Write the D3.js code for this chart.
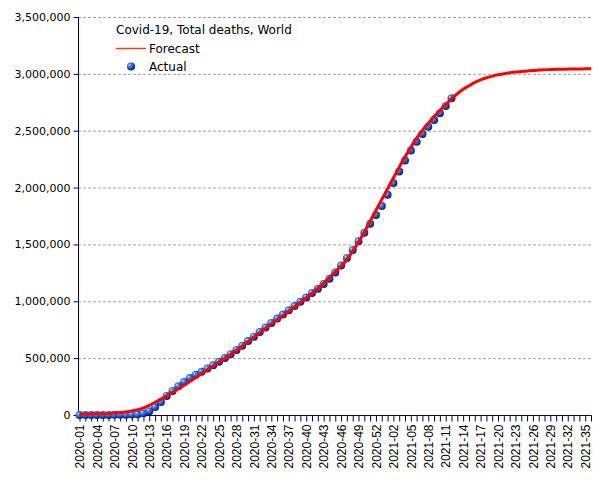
<!DOCTYPE html>
<html>
<head>
<meta charset="utf-8">
<script src="https://cdn.jsdelivr.net/npm/d3@7"></script>
<style>
  html, body { margin: 0; padding: 0; background: #fff; }
  svg { display: block; }
</style>
</head>
<body>
<svg id="chart" width="605" height="480"></svg>
<script>
const weeks = [
  "2020-01","2020-02","2020-03","2020-04","2020-05","2020-06","2020-07","2020-08","2020-09","2020-10",
  "2020-11","2020-12","2020-13","2020-14","2020-15","2020-16","2020-17","2020-18","2020-19","2020-20",
  "2020-21","2020-22","2020-23","2020-24","2020-25","2020-26","2020-27","2020-28","2020-29","2020-30",
  "2020-31","2020-32","2020-33","2020-34","2020-35","2020-36","2020-37","2020-38","2020-39","2020-40",
  "2020-41","2020-42","2020-43","2020-44","2020-45","2020-46","2020-47","2020-48","2020-49","2020-50",
  "2020-51","2020-52","2020-53","2021-01","2021-02","2021-03","2021-04","2021-05","2021-06","2021-07",
  "2021-08","2021-09","2021-10","2021-11","2021-12","2021-13","2021-14","2021-15","2021-16","2021-17",
  "2021-18","2021-19","2021-20","2021-21","2021-22","2021-23","2021-24","2021-25","2021-26","2021-27",
  "2021-28","2021-29","2021-30","2021-31","2021-32","2021-33","2021-34","2021-35","2021-36"
];

const actual = [
  0, 1, 3, 80, 362, 910, 1770, 2470, 3000, 3800,
  6500, 14700, 33900, 69400, 114000, 168000, 212000, 252000, 290000, 325000,
  354000, 380000, 408000, 437000, 468000, 501000, 535000, 572000, 610000, 650000,
  689000, 730000, 770000, 809000, 848000, 883000, 921000, 958000, 995000, 1033000,
  1072000, 1111000, 1153000, 1199000, 1253000, 1314000, 1381000, 1452000, 1527000, 1602000,
  1682000, 1758000, 1837000, 1937000, 2040000, 2141000, 2238000, 2325000, 2403000, 2472000,
  2535000, 2594000, 2654000, 2717000, 2785000
];

const forecast = [
  8000, 9000, 10000, 11000, 12000, 14000, 17000, 21000, 27000, 35000,
  46000, 62000, 85000, 112000, 140000, 168000, 198000, 230000, 262000, 296000,
  330000, 364000, 398000, 432000, 466000, 500000, 533000, 568000, 605000, 645000,
  685000, 722000, 760000, 798000, 835000, 872000, 910000, 950000, 990000, 1030000,
  1070000, 1115000, 1160000, 1210000, 1260000, 1310000, 1365000, 1440000, 1520000, 1610000,
  1705000, 1800000, 1895000, 1990000, 2085000, 2180000, 2270000, 2355000, 2435000, 2505000,
  2565000, 2625000, 2680000, 2730000, 2780000, 2825000, 2865000, 2895000, 2925000, 2948000,
  2966000, 2980000, 2992000, 3001000, 3009000, 3016000, 3021000, 3026000, 3030000, 3033000,
  3036000, 3038000, 3040000, 3041000, 3042000, 3043000, 3043000, 3044000, 3044000
];

const yTicks = [0, 500000, 1000000, 1500000, 2000000, 2500000, 3000000, 3500000];
const legendTitle = "Covid-19, Total deaths, World";
const seriesNames = ["Forecast", "Actual"];

const svg = d3.select("#chart");
const axisColor = "#000066";
const plotLeft = 78, plotRight = 591, plotTop = 17, plotBottom = 415;

const x = d3.scalePoint().domain(weeks).range([79.5, 591]);
const y = d3.scaleLinear().domain([0, 3500000]).range([plotBottom, plotTop]);

// defs: sphere gradient
const defs = svg.append("defs");
const grad = defs.append("radialGradient").attr("id", "ball")
  .attr("cx", "40%").attr("cy", "40%").attr("r", "65%").attr("fx", "32%").attr("fy", "30%");
grad.append("stop").attr("offset", "0%").attr("stop-color", "#d6e8ff");
grad.append("stop").attr("offset", "25%").attr("stop-color", "#4d8ff5");
grad.append("stop").attr("offset", "60%").attr("stop-color", "#1a56d0");
grad.append("stop").attr("offset", "100%").attr("stop-color", "#001060");

// grid lines
svg.append("g").selectAll("line").data(yTicks.filter(d => d > 0)).join("line")
  .attr("x1", plotLeft).attr("x2", plotRight)
  .attr("y1", d => y(d) + 0.5).attr("y2", d => y(d) + 0.5)
  .attr("stroke", "#a0a0a0").attr("stroke-width", 1).attr("stroke-dasharray", "3,2");

// Y axis
const yAxis = d3.axisLeft(y).tickValues(yTicks).tickSize(5).tickPadding(3)
  .tickFormat(d3.format(","));
const gy = svg.append("g").attr("transform", `translate(${plotLeft + 0.5},0)`).call(yAxis);
gy.select(".domain").attr("stroke", axisColor).attr("d", `M0,${plotTop}V${plotBottom}`);
gy.selectAll(".tick line").attr("stroke", axisColor);
gy.selectAll(".tick text").attr("fill", "#000").style("font-family", "'DejaVu Sans', sans-serif").style("font-size", "11px");

// X axis
const xAxis = d3.axisBottom(x).tickSize(6).tickSizeOuter(0)
  .tickFormat((d, i) => (i % 3 === 0 ? d : ""));
const gx = svg.append("g").attr("transform", `translate(0,${plotBottom + 0.5})`).call(xAxis);
gx.select(".domain").attr("stroke", axisColor).attr("d", `M${plotLeft},0H${plotRight + 0.5}`);
gx.selectAll(".tick line").attr("stroke", axisColor);
gx.selectAll(".tick text")
  .attr("fill", "#000")
  .style("font-family", "'Liberation Sans', Arial, sans-serif").style("font-size", "12px")
  .attr("text-anchor", "end")
  .attr("transform", "rotate(-90)")
  .attr("x", -9).attr("y", 0).attr("dy", "0.35em");

// Actual points
svg.append("g").selectAll("circle").data(actual).join("circle")
  .attr("cx", (d, i) => x(weeks[i]))
  .attr("cy", d => y(d))
  .attr("r", 4)
  .attr("fill", "url(#ball)");

// Forecast line
const line = d3.line().x((d, i) => x(weeks[i])).y(d => y(d)).curve(d3.curveMonotoneX);
svg.append("path").datum(forecast)
  .attr("d", line)
  .attr("fill", "none").attr("stroke", "#ff0000").attr("stroke-width", 3);

// Legend
const lg = svg.append("g").style("font-family", "'DejaVu Sans', sans-serif").style("font-size", "12px");
lg.append("text").attr("x", 116).attr("y", 34).text(legendTitle);
lg.append("line").attr("x1", 116).attr("x2", 146).attr("y1", 48.5).attr("y2", 48.5)
  .attr("stroke", "#ff3c14").attr("stroke-width", 1.5);
lg.append("text").attr("x", 149).attr("y", 53).text(seriesNames[0]);
lg.append("circle").attr("cx", 131).attr("cy", 66.5).attr("r", 4).attr("fill", "url(#ball)");
lg.append("text").attr("x", 149).attr("y", 71).text(seriesNames[1]);
</script>
</body>
</html>
